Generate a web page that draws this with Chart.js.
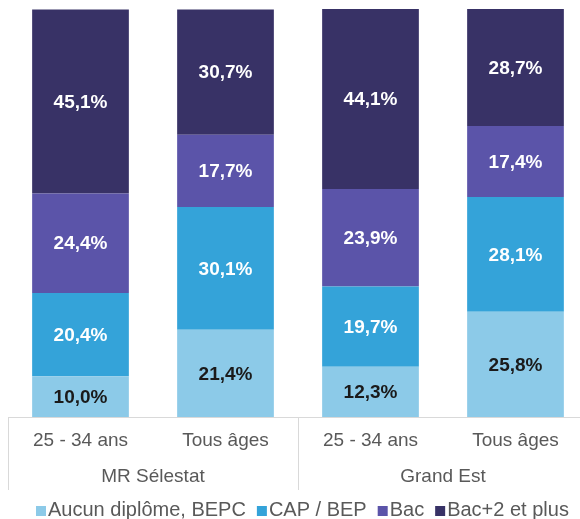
<!DOCTYPE html>
<html lang="fr">
<head>
    <meta charset="UTF-8">
    <title>Diplômes - MR Sélestat / Grand Est</title>
    <style>
        body {
            margin: 0;
            width: 580px;
            height: 519px;
            overflow: hidden;
            background: #fff;
        }
        #wrap {
            width: 588px;
            height: 519px;
        }
    </style>
</head>
<body>
    <div id="wrap"><canvas id="chart"></canvas></div>

    <script src="https://cdn.jsdelivr.net/npm/chart.js"></script>
    <script>
        // categories (two levels)
        const ageLabels = ['25 - 34 ans', 'Tous âges', '25 - 34 ans', 'Tous âges'];
        const groupLabels = ['MR Sélestat', 'Grand Est'];

        // series (%)
        const seriesNames = ['Aucun diplôme, BEPC', 'CAP / BEP', 'Bac', 'Bac+2 et plus'];
        const aucun = [10.0, 21.4, 12.3, 25.8];
        const capBep = [20.4, 30.1, 19.7, 28.1];
        const bac = [24.4, 17.7, 23.9, 17.4];
        const bacPlus = [45.1, 30.7, 44.1, 28.7];

        const colors = ['#8ccae8', '#34a3d9', '#5b54a9', '#383266'];
        const labelColors = ['#1a1a1a', '#fff', '#fff', '#fff'];
        const FONT = "'Liberation Sans', Arial, sans-serif";
        const gridColor = '#d9d9d9';
        const textColor = '#595959';

        // value labels in the middle of each segment
        const segmentLabels = {
            id: 'segmentLabels',
            afterDatasetsDraw(chart) {
                const ctx = chart.ctx;
                ctx.save();
                ctx.font = `bold 19px ${FONT}`;
                ctx.textAlign = 'center';
                ctx.textBaseline = 'middle';
                chart.data.datasets.forEach((ds, i) => {
                    const meta = chart.getDatasetMeta(i);
                    meta.data.forEach((bar, j) => {
                        const v = ds.data[j];
                        ctx.fillStyle = labelColors[i];
                        ctx.fillText(v.toFixed(1).replace('.', ',') + '%', bar.x, (bar.y + bar.base) / 2 + 1);
                    });
                });
                ctx.restore();
            }
        };

        // group labels and separators under the x axis
        const groupAxis = {
            id: 'groupAxis',
            afterDraw(chart) {
                const ctx = chart.ctx;
                const x = chart.scales.x;
                const area = chart.chartArea;
                const step = x.getPixelForValue(1) - x.getPixelForValue(0);
                ctx.save();
                ctx.strokeStyle = gridColor;
                ctx.lineWidth = 1;
                ctx.beginPath();
                ctx.moveTo(area.left, area.bottom + 0.5);
                ctx.lineTo(area.right, area.bottom + 0.5);
                for (let g = 0; g <= groupLabels.length; g++) {
                    const px = Math.round(x.getPixelForValue(g * 2) - step / 2) + 0.5;
                    ctx.moveTo(px, area.bottom);
                    ctx.lineTo(px, area.bottom + 73);
                }
                ctx.stroke();
                ctx.font = `19px ${FONT}`;
                ctx.fillStyle = textColor;
                ctx.textAlign = 'center';
                ctx.textBaseline = 'middle';
                groupLabels.forEach((g, k) => {
                    const cx = (x.getPixelForValue(k * 2) + x.getPixelForValue(k * 2 + 1)) / 2;
                    ctx.fillText(g, cx, area.bottom + 60);
                });
                ctx.restore();
            }
        };

        // compact legend (small square right against the text)
        const compactLegend = {
            id: 'compactLegend',
            afterDraw(chart) {
                const ctx = chart.ctx;
                const y = chart.chartArea.bottom + 93;
                let xPos = 36;
                ctx.save();
                ctx.font = `20px ${FONT}`;
                ctx.textAlign = 'left';
                ctx.textBaseline = 'middle';
                chart.data.datasets.forEach((ds) => {
                    ctx.fillStyle = ds.backgroundColor;
                    ctx.fillRect(xPos, y - 4, 10, 10);
                    xPos += 12;
                    ctx.fillStyle = textColor;
                    ctx.fillText(ds.label, xPos, y);
                    xPos += ctx.measureText(ds.label).width + 11;
                });
                ctx.restore();
            }
        };

        const series = [aucun, capBep, bac, bacPlus];

        new Chart(document.getElementById('chart'), {
            type: 'bar',
            data: {
                labels: ageLabels,
                datasets: series.map((d, i) => ({
                    label: seriesNames[i],
                    data: d,
                    backgroundColor: colors[i],
                    borderWidth: 0,
                    barPercentage: 0.667,
                    categoryPercentage: 1
                }))
            },
            options: {
                responsive: true,
                maintainAspectRatio: false,
                animation: false,
                layout: { padding: { top: 9, left: 8, right: 0, bottom: 23 } },
                scales: {
                    x: {
                        stacked: true,
                        grid: { display: false, drawTicks: false },
                        border: { display: false },
                        ticks: {
                            color: textColor,
                            font: { family: FONT, size: 19 },
                            padding: 12
                        },
                        afterFit(scale) { scale.height = 79; }
                    },
                    y: {
                        stacked: true,
                        display: false,
                        min: 0,
                        max: 100
                    }
                },
                plugins: {
                    legend: { display: false },
                    tooltip: { enabled: false }
                }
            },
            plugins: [segmentLabels, groupAxis, compactLegend]
        });
    </script>
</body>
</html>
